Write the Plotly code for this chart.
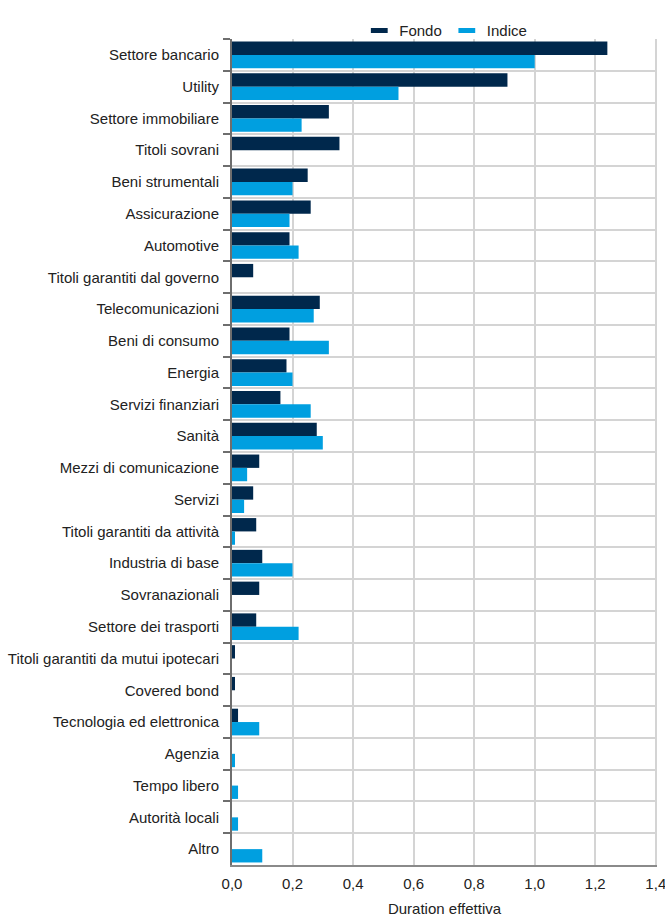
import plotly.graph_objects as go

categories = [
    "Settore bancario", "Utility", "Settore immobiliare", "Titoli sovrani",
    "Beni strumentali", "Assicurazione", "Automotive",
    "Titoli garantiti dal governo", "Telecomunicazioni", "Beni di consumo",
    "Energia", "Servizi finanziari", "Sanità", "Mezzi di comunicazione",
    "Servizi", "Titoli garantiti da attività", "Industria di base",
    "Sovranazionali", "Settore dei trasporti",
    "Titoli garantiti da mutui ipotecari", "Covered bond",
    "Tecnologia ed elettronica", "Agenzia", "Tempo libero",
    "Autorità locali", "Altro",
]
fondo = [1.24, 0.91, 0.32, 0.355, 0.25, 0.26, 0.19, 0.07, 0.29, 0.19,
         0.18, 0.16, 0.28, 0.09, 0.07, 0.08, 0.10, 0.09, 0.08, 0.01,
         0.01, 0.02, 0.0, 0.0, 0.0, 0.0]
indice = [1.0, 0.55, 0.23, 0.0, 0.20, 0.19, 0.22, 0.0, 0.27, 0.32,
          0.20, 0.26, 0.30, 0.05, 0.04, 0.01, 0.20, 0.0, 0.22, 0.0,
          0.0, 0.09, 0.01, 0.02, 0.02, 0.10]
x_ticks = [0.0, 0.2, 0.4, 0.6, 0.8, 1.0, 1.2, 1.4]

NAVY = "#00284c"
BLUE = "#009fe0"
FONT = "Liberation Sans"

fig = go.Figure()
fig.add_trace(go.Bar(y=categories, x=fondo, orientation="h", name="Fondo",
                     marker=dict(color=NAVY, line=dict(width=0)),
                     showlegend=False))
fig.add_trace(go.Bar(y=categories, x=indice, orientation="h", name="Indice",
                     marker=dict(color=BLUE, line=dict(width=0)),
                     showlegend=False))

# Legend entries drawn as short dashes
for name, color in [("Fondo", NAVY), ("Indice", BLUE)]:
    fig.add_trace(go.Scatter(
        x=[None], y=[None], mode="markers", name=name,
        marker=dict(symbol="line-ew-open", size=12, color=color,
                    line=dict(color=color, width=5)),
    ))

fig.update_layout(
    width=665, height=917,
    margin=dict(l=232, r=8, t=39, b=52, autoexpand=False),
    paper_bgcolor="white", plot_bgcolor="white",
    separators=",.",
    barmode="group", bargap=0.16, bargroupgap=0,
    font=dict(family=FONT, size=15, color="#222222"),
    legend=dict(orientation="h", x=0.503, xanchor="center", y=0.99,
                yanchor="bottom", font=dict(size=15, color="#222222"),
                itemwidth=30, tracegroupgap=0,
                bgcolor="rgba(0,0,0,0)"),
    xaxis=dict(
        range=[0, 1.404], tickvals=x_ticks, tickformat=".1f",
        showgrid=True, gridcolor="#d4d4d4", gridwidth=2,
        showline=True, linecolor="#8a8a8a", linewidth=2,
        zeroline=False, ticks="", fixedrange=True,
        ticklabelstandoff=4, ticklabeloverflow="allow", automargin=False,
        title=dict(text="Duration effettiva", standoff=29,
                   font=dict(size=15, color="#222222")),
    ),
    yaxis=dict(
        type="category", autorange="reversed", tickson="boundaries",
        showgrid=True, gridcolor="#d4d4d4", gridwidth=2,
        showline=True, linecolor="#6e6e6e", linewidth=2,
        ticks="outside", ticklen=7, tickwidth=2, tickcolor="#6e6e6e",
        ticklabelstandoff=8, automargin=False,
    ),
)

fig.write_html("out.html")
